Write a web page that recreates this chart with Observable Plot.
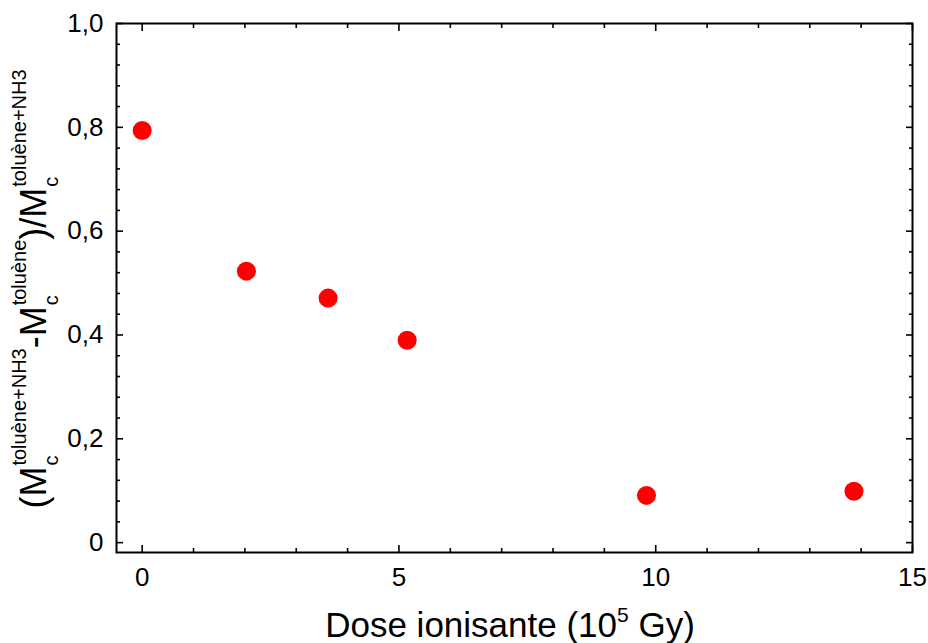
<!DOCTYPE html>
<html><head><meta charset="utf-8">
<script src="https://cdn.jsdelivr.net/npm/d3@7"></script>
<script src="https://cdn.jsdelivr.net/npm/@observablehq/plot@0.6"></script>
<style>body{margin:0;background:#fff;} svg{display:block;}</style>
</head><body><div id="chart"></div>
<script>
const dose = [0, 2.03, 3.62, 5.16, 9.82, 13.86];
const ratio = [0.794, 0.523, 0.471, 0.390, 0.091, 0.099];
const xMajorTicks = [0, 5, 10, 15];
const xMinorTicks = [1, 2, 3, 4, 6, 7, 8, 9, 11, 12, 13, 14];
const yMajorTicks = [0, 0.2, 0.4, 0.6, 0.8, 1.0];
const yMinorTicks = [0.04, 0.08, 0.12, 0.16, 0.24, 0.28, 0.32, 0.36, 0.44, 0.48, 0.52, 0.56, 0.64, 0.68, 0.72, 0.76, 0.84, 0.88, 0.92, 0.96];
const xTitle = ["Dose ionisante (10", "5", " Gy)"];
const yTitleParts = [
  {main: "(M", sub: "c", sup: "toluène+NH3"},
  {main: "-M", sub: "c", sup: "toluène"},
  {main: ")/M", sub: "c", sup: "toluène+NH3"}
];

const data = dose.map((d, i) => ({dose: d, ratio: ratio[i]}));
const fmtY = d => d === 0 ? "0" : d.toFixed(1).replace(".", ",");
const FONT = "'Liberation Sans', Arial, Helvetica, sans-serif";
const blank = () => "";

const plot = Plot.plot({
  width: 928, height: 643,
  marginLeft: 116, marginRight: 16, marginTop: 23, marginBottom: 91,
  style: {fontFamily: FONT, fontSize: "26px", background: "#fff", color: "#000"},
  x: {domain: [-0.5, 15]},
  y: {domain: [-0.019, 1.0]},
  marks: [
    Plot.frame({stroke: "#000", strokeWidth: 2}),
    Plot.axisX(xMajorTicks, {anchor: "bottom", tickSize: -7, tickFormat: blank, label: null, strokeWidth: 1.6}),
    Plot.axisX(xMinorTicks, {anchor: "bottom", tickSize: -4, tickFormat: blank, label: null, strokeWidth: 1.6}),
    Plot.axisX(xMajorTicks, {anchor: "top", tickSize: -7, tickFormat: blank, label: null, strokeWidth: 1.6}),
    Plot.axisX(xMinorTicks, {anchor: "top", tickSize: -4, tickFormat: blank, label: null, strokeWidth: 1.6}),
    Plot.axisY(yMajorTicks, {anchor: "left", tickSize: -7, tickFormat: blank, label: null, strokeWidth: 1.6}),
    Plot.axisY(yMinorTicks, {anchor: "left", tickSize: -4, tickFormat: blank, label: null, strokeWidth: 1.6}),
    Plot.axisY(yMajorTicks, {anchor: "right", tickSize: -7, tickFormat: blank, label: null, strokeWidth: 1.6}),
    Plot.axisY(yMinorTicks, {anchor: "right", tickSize: -4, tickFormat: blank, label: null, strokeWidth: 1.6}),
    Plot.axisX(xMajorTicks, {anchor: "bottom", tickSize: 0, tickPadding: 15, fontSize: 26, label: null, tickFormat: d => String(d)}),
    Plot.axisY(yMajorTicks, {anchor: "left", tickSize: 0, tickPadding: 13, fontSize: 26, label: null, tickFormat: fmtY}),
    Plot.dot(data, {x: "dose", y: "ratio", r: 9.5, fill: "#ff0000", stroke: "none"})
  ]
});
document.getElementById("chart").appendChild(plot);

const svg = d3.select(plot);

const xt = svg.append("text")
  .attr("x", 510).attr("y", 637)
  .attr("text-anchor", "middle")
  .attr("font-family", FONT).style("font-size", "35px").attr("fill", "#000");
xt.append("tspan").text(xTitle[0]);
xt.append("tspan").style("font-size", "21px").attr("dy", -15).text(xTitle[1]);
xt.append("tspan").attr("dy", 15).text(xTitle[2]);

// Y title: one text element, subscript and superscript stacked after each M
const mainSize = 36, smallSize = 20;
const subDy = 12, supDy = -20;
const yt = svg.append("text")
  .attr("transform", "translate(46,289) rotate(-90)")
  .attr("text-anchor", "middle")
  .attr("font-family", FONT).style("font-size", mainSize + "px").attr("fill", "#000");
yTitleParts.forEach((p, i) => {
  yt.append("tspan").attr("dy", i === 0 ? 0 : -supDy).text(p.main);
  yt.append("tspan").style("font-size", smallSize + "px").attr("dx", 1).attr("dy", subDy).text(p.sub);
  yt.append("tspan").style("font-size", smallSize + "px").attr("dx", -0.5 * smallSize).attr("dy", supDy - subDy).text(p.sup);
});
</script>
</body></html>
